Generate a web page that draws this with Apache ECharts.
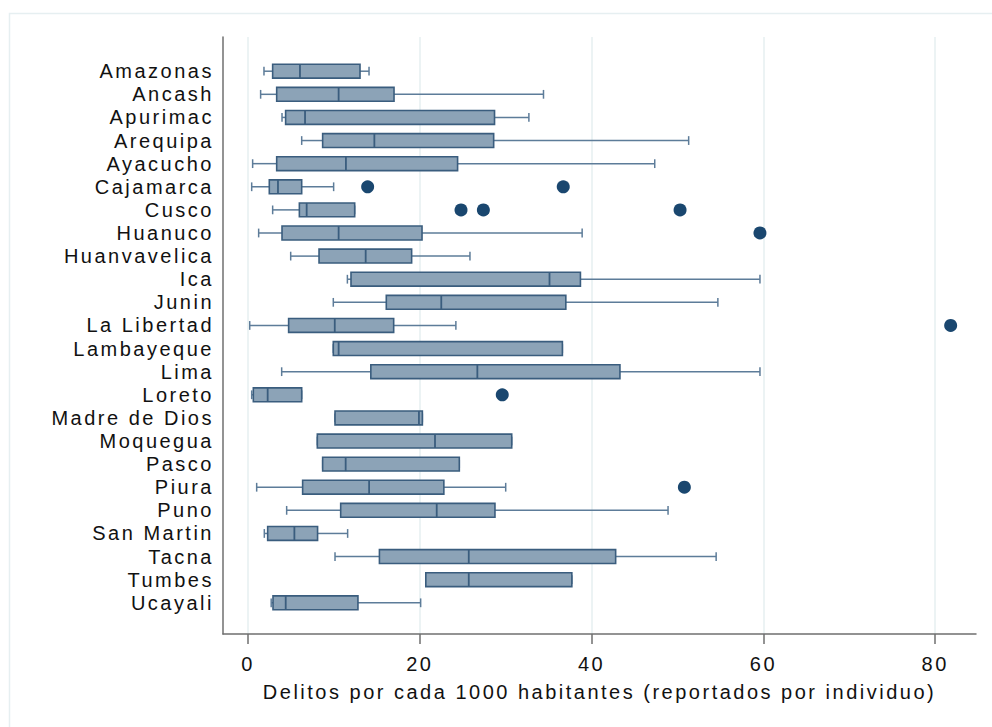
<!DOCTYPE html>
<html>
<head>
<meta charset="utf-8">
<script src="https://cdn.jsdelivr.net/npm/echarts@6/dist/echarts.min.js"></script>
<style>
  html, body { margin: 0; padding: 0; background: #ffffff; }
  #chart { width: 992px; height: 727px; }
  #chart text { letter-spacing: 2.5px; }
</style>
</head>
<body>
<div id="chart"></div>
<script>
// Departments, top to bottom
const categories = [
  'Amazonas', 'Ancash', 'Apurimac', 'Arequipa', 'Ayacucho', 'Cajamarca',
  'Cusco', 'Huanuco', 'Huanvavelica', 'Ica', 'Junin', 'La Libertad',
  'Lambayeque', 'Lima', 'Loreto', 'Madre de Dios', 'Moquegua', 'Pasco',
  'Piura', 'Puno', 'San Martin', 'Tacna', 'Tumbes', 'Ucayali'
];

// Box statistics per department (crimes per 1000 inhabitants)
const lowerWhisker = [1.86, 1.47, 3.96, 6.25, 0.54, 0.43, 2.87, 1.24, 4.97, 11.57, 9.93, 0.2,
                      9.93, 3.92, 0.43, 10.13, 8.07, 8.69, 1.01, 4.5, 1.9, 10.13, 20.7, 2.7];
const quartile1    = [2.87, 3.34, 4.38, 8.69, 3.34, 2.48, 5.98, 3.96, 8.27, 11.99, 16.1, 4.73,
                      9.93, 14.3, 0.62, 10.13, 8.07, 8.69, 6.36, 10.79, 2.29, 15.3, 20.7, 2.91];
const medians      = [6.05, 10.55, 6.64, 14.71, 11.4, 3.49, 6.83, 10.55, 13.7, 35.1, 22.5, 10.1,
                      10.55, 26.7, 2.29, 19.9, 21.77, 11.37, 14.1, 21.97, 5.4, 25.7, 25.7, 4.39];
const quartile3    = [13.04, 17.0, 28.7, 28.6, 24.4, 6.25, 12.42, 20.26, 19.05, 38.7, 37.0, 16.96,
                      36.6, 43.3, 6.25, 20.3, 30.7, 24.6, 22.8, 28.75, 8.1, 42.8, 37.7, 12.8];
const upperWhisker = [14.09, 34.4, 32.7, 51.3, 47.35, 9.97, 12.42, 38.9, 25.84, 59.6, 54.7, 24.2,
                      36.6, 59.6, 6.25, 20.3, 30.7, 24.6, 30.0, 48.9, 11.6, 54.5, 37.7, 20.1];

// Outlying observations: department index and value
const outlierRows   = [5, 5, 6, 6, 6, 7, 11, 14, 18];
const outlierValues = [13.93, 36.7, 24.8, 27.4, 50.3, 59.6, 81.8, 29.6, 50.8];

// X-axis tick labels
const xTicks = [0, 20, 40, 60, 80];

const boxData = categories.map((name, i) =>
  [i, lowerWhisker[i], quartile1[i], medians[i], quartile3[i], upperWhisker[i]]);
const outlierData = outlierRows.map((r, k) => [outlierValues[k], r]);

const BOX_BORDER = '#3a5d7e';
const BOX_FILL = '#8ca3b7';
const WHISKER = '#5d7c99';
const DOT = '#1a476f';

function renderBox(params, api) {
  const row = api.value(0);
  const band = api.size([0, 1])[1];
  const boxH = band * 0.6;
  const capH = band * 0.38;
  const pLo = api.coord([api.value(1), row]);
  const pQ1 = api.coord([api.value(2), row]);
  const pMed = api.coord([api.value(3), row]);
  const pQ3 = api.coord([api.value(4), row]);
  const pHi = api.coord([api.value(5), row]);
  const y = pQ1[1];
  const wStyle = { stroke: WHISKER, lineWidth: 1.5 };
  return {
    type: 'group',
    children: [
      { type: 'line', shape: { x1: pLo[0], y1: y, x2: pQ1[0], y2: y }, style: wStyle },
      { type: 'line', shape: { x1: pQ3[0], y1: y, x2: pHi[0], y2: y }, style: wStyle },
      { type: 'line', shape: { x1: pLo[0], y1: y - capH / 2, x2: pLo[0], y2: y + capH / 2 }, style: wStyle },
      { type: 'line', shape: { x1: pHi[0], y1: y - capH / 2, x2: pHi[0], y2: y + capH / 2 }, style: wStyle },
      {
        type: 'rect',
        shape: { x: pQ1[0], y: y - boxH / 2, width: pQ3[0] - pQ1[0], height: boxH },
        style: { fill: BOX_FILL, stroke: BOX_BORDER, lineWidth: 1.6 }
      },
      { type: 'line', shape: { x1: pMed[0], y1: y - boxH / 2, x2: pMed[0], y2: y + boxH / 2 },
        style: { stroke: BOX_BORDER, lineWidth: 1.8 } }
    ]
  };
}

const chart = echarts.init(document.getElementById('chart'), null, { renderer: 'svg' });

chart.setOption({
  animation: false,
  backgroundColor: '#ffffff',
  graphic: [{
    type: 'rect',
    left: 7, top: 11,
    shape: { width: 1000, height: 730 },
    style: { fill: 'none', stroke: '#e6eff1', lineWidth: 1.5 },
    silent: true,
    z: -10
  }],
  grid: { left: 223, top: 37, right: 16, bottom: 93 },
  xAxis: {
    type: 'value',
    min: -2.91,
    max: 84.75,
    name: 'Delitos por cada 1000 habitantes (reportados por individuo)',
    nameLocation: 'middle',
    nameGap: 48,
    nameTextStyle: { fontFamily: 'Liberation Sans', fontSize: 20, color: '#111' },
    axisLine: { show: true, onZero: false, lineStyle: { color: '#6f6f6f', width: 1.5 } },
    axisTick: { show: true, length: 10, customValues: xTicks, lineStyle: { color: '#6f6f6f', width: 1.5 } },
    axisLabel: { customValues: xTicks, margin: 20, fontFamily: 'Liberation Sans', fontSize: 20, color: '#111' },
    splitLine: { show: true, lineStyle: { color: '#e6eff1', width: 1.5 } }
  },
  yAxis: {
    type: 'value',
    inverse: true,
    min: -1.48,
    max: 24.35,
    axisLine: { show: true, onZero: false, lineStyle: { color: '#6f6f6f', width: 1.5 } },
    axisTick: { show: false },
    splitLine: { show: false },
    axisLabel: {
      customValues: categories.map((c, i) => i),
      formatter: (v) => categories[v] || '',
      margin: 9,
      fontFamily: 'Liberation Sans',
      fontSize: 20,
      color: '#111'
    }
  },
  series: [
    {
      type: 'custom',
      renderItem: renderBox,
      encode: { x: [1, 2, 3, 4, 5], y: 0 },
      data: boxData,
      z: 2
    },
    {
      type: 'scatter',
      data: outlierData,
      symbol: 'circle',
      symbolSize: 13,
      itemStyle: { color: DOT, opacity: 1 },
      z: 3
    }
  ]
});
</script>
</body>
</html>
